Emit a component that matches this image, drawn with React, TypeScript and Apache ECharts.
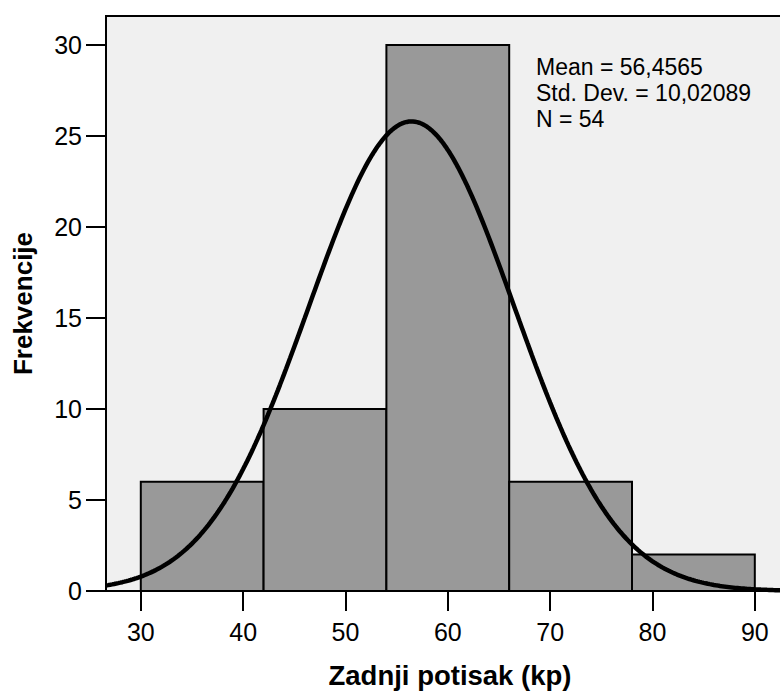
import React, { useEffect, useRef } from "react";
import * as echarts from "echarts";

// Histogram bins (lower edge, upper edge) and their counts
const binStarts = [30, 42, 54, 66, 78];
const binEnds = [42, 54, 66, 78, 90];
const frequencies = [6, 10, 30, 6, 2];

// Summary statistics printed in the plot
const mean = 56.4565;
const stdDev = 10.02089;
const sampleSize = 54;
const statLines = ["Mean = 56,4565", "Std. Dev. = 10,02089", "N = 54"];

const xTicks = [30, 40, 50, 60, 70, 80, 90];
const yTicks = [0, 5, 10, 15, 20, 25, 30];

const X_MIN = 26.6;
const X_MAX = 93.83;
const Y_MAX = 31.59;

const FONT = '"Liberation Sans", Arial, Helvetica, sans-serif';

// Normal curve scaled to the histogram: N * binWidth * pdf(x)
function normalCurve(): number[][] {
  const binWidth = binEnds[0] - binStarts[0];
  const pts: number[][] = [];
  for (let x = X_MIN; x <= X_MAX + 0.001; x += 0.2) {
    const z = (x - mean) / stdDev;
    const pdf = Math.exp(-0.5 * z * z) / (stdDev * Math.sqrt(2 * Math.PI));
    pts.push([x, sampleSize * binWidth * pdf]);
  }
  return pts;
}

export default function App() {
  const ref = useRef<HTMLDivElement>(null);

  useEffect(() => {
    if (!ref.current) return;
    const chart = echarts.init(ref.current, undefined, { renderer: "svg" });

    const barData = frequencies.map((f, i) => [binStarts[i], binEnds[i], f]);

    chart.setOption({
      animation: false,
      backgroundColor: "#ffffff",
      grid: {
        left: 106,
        top: 16,
        right: -14,
        bottom: 100,
        outerBoundsMode: "none",
        containLabel: false,
        show: true,
        backgroundColor: "#f0f0f0",
        borderColor: "#000000",
        borderWidth: 2,
      },
      xAxis: {
        type: "value",
        min: X_MIN,
        max: X_MAX,
        name: "Zadnji potisak (kp)",
        nameLocation: "middle",
        nameGap: 70,
        nameTextStyle: {
          fontFamily: FONT,
          fontSize: 27.5,
          fontWeight: "bold",
          color: "#000",
        },
        axisLine: { show: true, onZero: false, lineStyle: { color: "#000", width: 2 } },
        axisTick: {
          show: true,
          inside: false,
          length: 20,
          customValues: xTicks,
          lineStyle: { color: "#000", width: 2 },
        },
        axisLabel: {
          customValues: xTicks,
          margin: 28,
          fontFamily: FONT,
          fontSize: 25,
          color: "#000",
        },
        splitLine: { show: false },
      },
      yAxis: {
        type: "value",
        min: 0,
        max: Y_MAX,
        name: "Frekvencije",
        nameLocation: "middle",
        nameGap: 70,
        nameRotate: 90,
        nameTextStyle: {
          fontFamily: FONT,
          fontSize: 26,
          fontWeight: "bold",
          color: "#000",
        },
        axisLine: { show: true, lineStyle: { color: "#000", width: 2 } },
        axisTick: {
          show: true,
          inside: false,
          length: 20,
          customValues: yTicks,
          lineStyle: { color: "#000", width: 2 },
        },
        axisLabel: {
          customValues: yTicks,
          margin: 24,
          fontFamily: FONT,
          fontSize: 25,
          color: "#000",
        },
        splitLine: { show: false },
      },
      graphic: [
        {
          type: "text",
          left: 536,
          top: 54,
          z: 100,
          style: {
            text: statLines.join("\n"),
            fontFamily: FONT,
            fontSize: 23,
            lineHeight: 26,
            fill: "#000",
          },
        },
      ],
      series: [
        {
          type: "custom",
          z: 2,
          data: barData,
          encode: { x: [0, 1], y: 2 },
          renderItem: (params: any, api: any) => {
            const p0 = api.coord([api.value(0), api.value(2)]);
            const p1 = api.coord([api.value(1), 0]);
            return {
              type: "rect",
              shape: { x: p0[0], y: p0[1], width: p1[0] - p0[0], height: p1[1] - p0[1] },
              style: { fill: "#999999", stroke: "#000000", lineWidth: 2 },
            };
          },
        },
        {
          type: "line",
          z: 3,
          data: normalCurve(),
          showSymbol: false,
          smooth: false,
          clip: true,
          lineStyle: { color: "#000000", width: 4.5 },
        },
      ],
    });

    return () => chart.dispose();
  }, []);

  return <div ref={ref} style={{ width: 780, height: 691, position: "absolute", left: 0, top: 0 }} />;
}
